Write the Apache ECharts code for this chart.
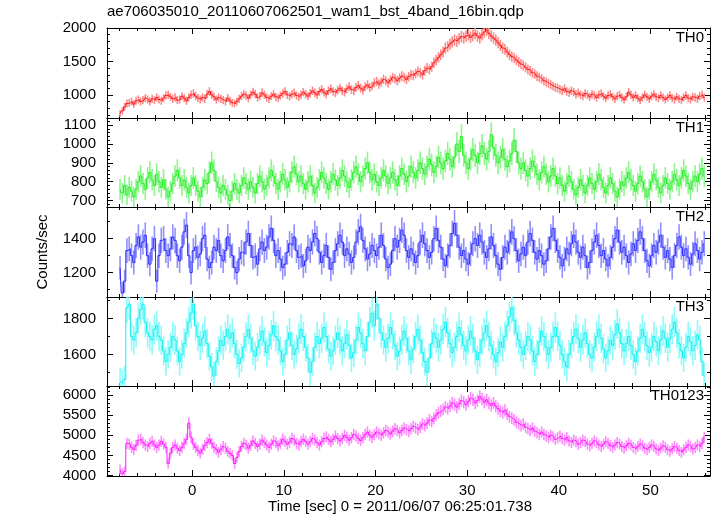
<!DOCTYPE html>
<html><head><meta charset="utf-8">
<script src="https://cdn.jsdelivr.net/npm/echarts@6/dist/echarts.min.js"></script>
<style>html,body{margin:0;padding:0;background:#fff}#c{width:717px;height:516px}</style>
</head><body><div id="c"></div>
<script>
// time bins: 0.25 s starting at t = -8 s
const tStart = -8, binWidth = 0.25;

const th0 = [
720,760,820,870,880,900,860,910,930,900,920,950,930,900,940,920,
960,930,910,950,990,1000,970,940,960,920,930,980,950,910,960,1000,
1020,980,950,930,960,940,1010,1050,1000,970,930,960,940,920,900,950,
910,880,870,900,940,980,1010,990,950,1000,1040,1010,960,980,1030,1000,
960,940,980,1010,970,950,990,1020,1050,1000,980,1010,1030,990,970,1000,
1040,1010,980,1020,1060,1030,1000,1050,1080,1040,1010,1060,1090,1050,1030,1070,
1100,1060,1040,1090,1120,1080,1060,1110,1140,1100,1070,1120,1150,1110,1130,1180,
1200,1160,1190,1230,1210,1180,1220,1260,1240,1210,1250,1280,1260,1230,1270,1300,
1290,1320,1350,1330,1300,1360,1400,1380,1420,1480,1520,1560,1600,1640,1700,1720,
1760,1790,1820,1800,1840,1870,1850,1880,1900,1860,1890,1920,1880,1850,1900,1940,
1970,1920,1880,1850,1820,1780,1740,1700,1680,1640,1600,1570,1550,1520,1490,1460,
1440,1410,1380,1360,1330,1310,1280,1260,1240,1210,1190,1170,1150,1130,1110,1100,
1080,1060,1090,1050,1030,1060,1040,1010,1030,1000,980,1020,1000,970,1010,990,
960,1000,1020,980,950,990,1010,970,940,980,1000,960,930,970,1040,1000,
960,990,950,920,960,1000,970,940,980,1010,970,950,990,960,930,960,
990,950,930,970,940,920,960,990,950,930,970,960,940,980,1000,960];

const th1 = [
760,740,780,730,770,750,720,760,800,830,790,760,820,850,810,780,
840,800,770,810,760,720,750,790,830,860,820,780,810,770,740,780,
820,780,750,720,770,810,790,850,900,860,800,770,740,780,760,730,
700,750,790,760,740,780,820,790,760,800,770,740,790,830,800,760,
780,820,860,830,790,760,800,840,810,770,800,850,880,840,800,830,
790,760,800,830,780,740,770,810,850,820,790,760,800,840,810,780,
820,860,830,800,770,810,850,880,840,800,830,870,900,850,810,840,
800,780,820,860,830,790,820,850,810,780,830,870,840,800,830,880,
850,820,860,900,870,840,880,920,890,850,880,930,900,870,910,950,
920,880,930,1000,960,1040,940,900,870,920,970,940,900,950,990,950,
920,960,1050,980,940,900,930,970,920,880,910,950,1020,960,900,870,
900,860,830,870,910,880,840,810,850,880,840,800,830,870,830,790,
820,780,750,790,830,800,760,730,770,810,780,740,780,820,790,760,
800,840,810,770,740,780,820,790,750,720,760,800,780,820,850,810,
780,750,790,830,800,760,720,760,800,840,810,770,740,780,820,790,
760,800,840,810,780,820,860,830,790,760,800,830,800,840,870,830];

const th2 = [
1230,1080,1150,1330,1340,1300,1260,1360,1410,1350,1380,1420,1300,1250,1340,1400,
1150,1300,1390,1400,1330,1300,1340,1410,1390,1300,1270,1350,1440,1480,1300,1200,
1330,1350,1290,1310,1400,1420,1280,1230,1260,1350,1330,1390,1300,1270,1330,1410,
1360,1300,1230,1200,1280,1320,1310,1380,1430,1360,1290,1300,1250,1340,1380,1330,
1350,1410,1460,1390,1300,1330,1280,1230,1250,1320,1370,1360,1410,1330,1290,1300,
1240,1270,1350,1330,1380,1430,1400,1320,1260,1300,1360,1290,1220,1260,1330,1370,
1420,1380,1300,1340,1310,1260,1290,1380,1440,1470,1390,1340,1280,1310,1360,1330,
1300,1350,1420,1360,1280,1230,1250,1330,1400,1350,1390,1450,1420,1330,1290,1340,
1310,1260,1300,1380,1420,1370,1330,1290,1320,1400,1460,1390,1350,1280,1240,1300,
1360,1430,1490,1420,1350,1300,1330,1280,1250,1310,1370,1400,1360,1420,1380,1320,
1290,1340,1410,1360,1300,1250,1220,1290,1350,1320,1380,1440,1400,1330,1270,1310,
1350,1300,1380,1430,1390,1320,1280,1330,1300,1250,1270,1340,1410,1460,1390,1330,
1290,1240,1280,1340,1310,1370,1420,1380,1320,1290,1350,1300,1230,1260,1330,1380,
1420,1360,1300,1330,1280,1240,1290,1350,1400,1450,1380,1320,1350,1300,1260,1310,
1370,1330,1390,1440,1400,1330,1270,1240,1300,1360,1320,1380,1420,1350,1290,1330,
1280,1230,1300,1360,1410,1350,1300,1340,1290,1250,1310,1370,1330,1280,1320,1370];

const th3 = [
1450,1440,1460,1860,1880,1700,1680,1720,1800,1850,1880,1780,1720,1700,1680,1740,
1760,1700,1680,1620,1560,1600,1640,1700,1680,1620,1560,1600,1660,1720,1780,1830,
1880,1760,1700,1650,1690,1730,1660,1590,1530,1480,1560,1620,1680,1650,1700,1740,
1690,1720,1660,1600,1550,1580,1640,1700,1740,1690,1620,1590,1640,1680,1730,1670,
1610,1650,1710,1760,1700,1680,1620,1560,1600,1680,1720,1650,1600,1630,1690,1740,
1700,1640,1580,1500,1560,1640,1700,1660,1690,1750,1700,1630,1590,1620,1680,1720,
1680,1620,1660,1710,1650,1580,1610,1680,1750,1720,1660,1620,1700,1780,1830,1760,
1880,1800,1720,1680,1640,1690,1750,1710,1650,1590,1620,1680,1730,1690,1620,1570,
1630,1700,1740,1680,1610,1560,1500,1580,1660,1720,1690,1640,1680,1740,1780,1720,
1660,1610,1640,1700,1750,1710,1650,1620,1680,1730,1690,1620,1570,1610,1680,1720,
1760,1700,1650,1600,1560,1610,1670,1640,1700,1760,1810,1860,1790,1720,1680,1640,
1600,1650,1700,1680,1620,1560,1600,1670,1730,1700,1640,1600,1640,1700,1750,1700,
1650,1600,1560,1530,1600,1660,1700,1740,1690,1640,1680,1720,1660,1600,1580,1640,
1700,1740,1690,1630,1580,1620,1680,1650,1710,1770,1720,1660,1620,1660,1700,1650,
1600,1560,1620,1690,1740,1700,1650,1610,1640,1700,1670,1620,1680,1730,1690,1640,
1690,1740,1780,1720,1660,1620,1580,1640,1700,1670,1620,1650,1710,1680,1560,1480];

const th0123 = [
4150,4050,4100,4800,4780,4700,4650,4750,4880,4900,4820,4760,4720,4800,4850,4760,
4700,4760,4850,4780,4700,4300,4550,4700,4760,4680,4620,4700,4800,4900,5300,4950,
4780,4700,4620,4560,4650,4750,4820,4900,4800,4700,4650,4580,4650,4720,4680,4600,
4550,4500,4300,4450,4600,4720,4800,4760,4680,4750,4860,4800,4720,4780,4880,4820,
4760,4700,4780,4860,4820,4740,4800,4900,4850,4780,4830,4920,4880,4800,4760,4840,
4900,4850,4780,4840,4920,4880,4820,4760,4840,4920,4960,4900,4840,4900,4980,4920,
4860,4920,5000,4950,4880,4940,5020,4980,4920,4870,4940,5020,5080,5000,4950,5020,
5080,5040,5000,5060,5120,5080,5030,5100,5160,5120,5060,5120,5180,5140,5100,5160,
5220,5180,5140,5200,5280,5240,5300,5380,5340,5420,5500,5560,5600,5640,5700,5660,
5720,5800,5760,5700,5780,5860,5820,5760,5840,5920,5880,5800,5860,5960,5900,5820,
5880,5800,5740,5800,5720,5660,5600,5560,5620,5520,5460,5420,5380,5320,5280,5240,
5280,5200,5160,5120,5180,5100,5060,5020,5080,5020,4980,4940,5000,4960,4900,4940,
4980,4920,4880,4940,4860,4820,4880,4840,4780,4820,4880,4840,4780,4740,4800,4860,
4820,4760,4720,4780,4840,4800,4740,4700,4760,4820,4780,4720,4680,4740,4800,4760,
4700,4660,4720,4780,4740,4680,4640,4700,4760,4720,4660,4620,4680,4740,4700,4640,
4600,4660,4720,4680,4620,4580,4640,4700,4760,4720,4660,4700,4760,4720,4800,4950];

const bandNames = ['TH0','TH1','TH2','TH3','TH0123'];

// tick values
const xMajor = [0,10,20,30,40,50];
const xMinor = [-8,-6,-4,-2,2,4,6,8,12,14,16,18,22,24,26,28,32,34,36,38,42,44,46,48,52,54,56];
const yMajor = [
  [1000,1500,2000],
  [700,800,900,1000,1100],
  [1200,1400],
  [1600,1800],
  [4000,4500,5000,5500,6000]
];
const yMinor = [
  [700,800,900,1100,1200,1300,1400,1600,1700,1800,1900],
  [680,720,740,760,780,820,840,860,880,920,940,960,980,1020,1040,1060,1080,1120],
  [1100,1300,1500],
  [1500,1700,1900],
  [4100,4200,4300,4400,4600,4700,4800,4900,5100,5200,5300,5400,5600,5700,5800,5900,6100,6200]
];

const bandData = [th0, th1, th2, th3, th0123];
const yRanges = [[653,2000],[666,1138],[1057,1586],[1424,1920],[3990,6222]];
const darkColors = ['#ff1a1a','#22ee22','#2a2aff','#10f0f0','#ff1aff'];
const lightColors = ['#ff8a8a','#8cf58c','#9090ff','#8cfafa','#ff8cff'];
const xRange = [-9.3, 56.5];

const gridTops = [28,118,207,297,386];
const gridHeights = [90,89,90,89,90];
const FONT = 'Liberation Sans';
const plain = v => String(v);

const chart = echarts.init(document.getElementById('c'), null, {renderer:'canvas'});
const grids = [], xAxes = [], yAxes = [], series = [], graphics = [];

for (let g = 0; g < 5; g++) {
  grids.push({left:107, width:603, top:gridTops[g], height:gridHeights[g]});
  const last = g === 4;
  const xBase = {gridIndex:g, type:'value', min:xRange[0], max:xRange[1], splitLine:{show:false}};
  const lineOn = {show:true, onZero:false, lineStyle:{color:'#000', width:1}};
  const lineOff = {show:false, onZero:false};
  const xi = xAxes.length;
  xAxes.push(Object.assign({}, xBase, {position:'bottom', axisLine:lineOn,
    axisTick:{show:true, inside:true, length:6, customValues:xMajor, lineStyle:{color:'#000'}},
    axisLabel:{show:last, customValues:xMajor, formatter:plain, color:'#000', fontSize:15, fontFamily:FONT, margin:7}}));
  xAxes.push(Object.assign({}, xBase, {position:'bottom', axisLine:lineOff,
    axisTick:{show:true, inside:true, length:3, customValues:xMinor, lineStyle:{color:'#000'}},
    axisLabel:{show:false}}));
  xAxes.push(Object.assign({}, xBase, {position:'top', axisLine:lineOn,
    axisTick:{show:true, inside:true, length:6, customValues:xMajor, lineStyle:{color:'#000'}},
    axisLabel:{show:false}}));
  xAxes.push(Object.assign({}, xBase, {position:'top', axisLine:lineOff,
    axisTick:{show:true, inside:true, length:3, customValues:xMinor, lineStyle:{color:'#000'}},
    axisLabel:{show:false}}));

  const yBase = {gridIndex:g, type:'value', min:yRanges[g][0], max:yRanges[g][1], splitLine:{show:false}};
  const yi = yAxes.length;
  yAxes.push(Object.assign({}, yBase, {position:'left', axisLine:lineOn,
    axisTick:{show:true, inside:true, length:6, customValues:yMajor[g], lineStyle:{color:'#000'}},
    axisLabel:{show:true, customValues:yMajor[g], formatter:plain, color:'#000', fontSize:15, fontFamily:FONT, margin:11}}));
  yAxes.push(Object.assign({}, yBase, {position:'left', axisLine:lineOff,
    axisTick:{show:true, inside:true, length:3, customValues:yMinor[g], lineStyle:{color:'#000'}},
    axisLabel:{show:false}}));
  yAxes.push(Object.assign({}, yBase, {position:'right', axisLine:lineOn,
    axisTick:{show:true, inside:true, length:6, customValues:yMajor[g], lineStyle:{color:'#000'}},
    axisLabel:{show:false}}));
  yAxes.push(Object.assign({}, yBase, {position:'right', axisLine:lineOff,
    axisTick:{show:true, inside:true, length:3, customValues:yMinor[g], lineStyle:{color:'#000'}},
    axisLabel:{show:false}}));

  const vals = bandData[g];
  // Poisson error of a rate in a 0.25 s bin
  const errData = vals.map((v,i) => [tStart + binWidth*(i+0.5), v, Math.sqrt(v*binWidth)/binWidth]);
  const lineData = vals.map((v,i) => [tStart + binWidth*(i+0.5), v]);
  const light = lightColors[g];
  series.push({
    type:'custom', xAxisIndex:xi, yAxisIndex:yi, data:errData, clip:true, z:2,
    encode:{x:0, y:1},
    renderItem:function(params, api){
      const t = api.value(0), v = api.value(1), e = api.value(2);
      const p1 = api.coord([t, v+e]), p2 = api.coord([t, v-e]);
      return {type:'line', shape:{x1:p1[0], y1:p1[1], x2:p2[0], y2:p2[1]},
        style:{stroke:light, lineWidth:1.6}};
    }
  });
  series.push({
    type:'line', xAxisIndex:xi, yAxisIndex:yi, data:lineData, step:'middle',
    showSymbol:false, symbol:'none', clip:true, z:3,
    lineStyle:{color:darkColors[g], width:1}
  });
  graphics.push({type:'text', x:704, y:gridTops[g]+2,
    style:{text:bandNames[g], textAlign:'right', textVerticalAlign:'top', font:'15px "Liberation Sans"', fill:'#000'}});
}

graphics.push({type:'text', x:107, y:4,
  style:{text:'ae706035010_20110607062501_wam1_bst_4band_16bin.qdp', textAlign:'left', textVerticalAlign:'top', font:'15px "Liberation Sans"', fill:'#000'}});
graphics.push({type:'text', x:400, y:507,
  style:{text:'Time [sec] 0 = 2011/06/07 06:25:01.738', textAlign:'center', textVerticalAlign:'middle', font:'15px "Liberation Sans"', fill:'#000'}});
graphics.push({type:'text', x:43, y:252, rotation:Math.PI/2,
  style:{text:'Counts/sec', textAlign:'center', textVerticalAlign:'middle', font:'15px "Liberation Sans"', fill:'#000'}});

chart.setOption({
  animation:false,
  backgroundColor:'#fff',
  textStyle:{fontFamily:FONT},
  grid:grids, xAxis:xAxes, yAxis:yAxes, series:series, graphic:graphics
});
</script></body></html>
